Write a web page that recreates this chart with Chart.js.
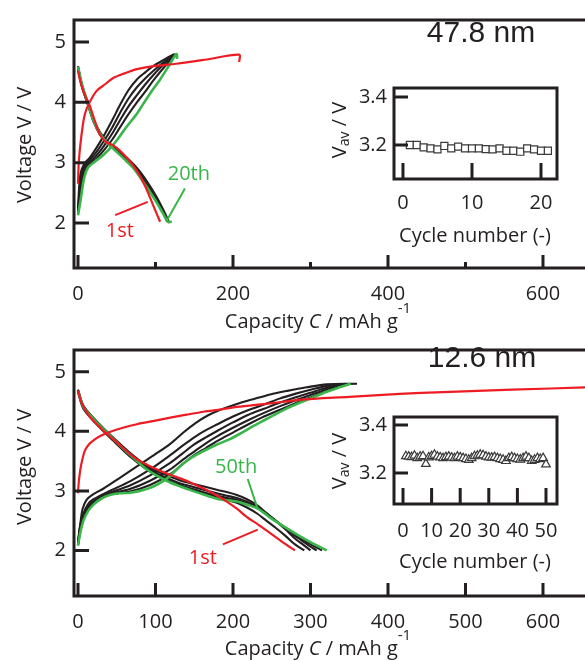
<!DOCTYPE html>
<html>
<head>
<meta charset="utf-8">
<script src="https://cdn.jsdelivr.net/npm/chart.js@4.4.1/dist/chart.umd.min.js"></script>
<style>
html, body { margin: 0; padding: 0; background: #fff; }
#wrap { position: relative; width: 585px; height: 661px; overflow: hidden; }
canvas { position: absolute; }
</style>
</head>
<body>
<div id="wrap">
  <canvas id="mainTop" width="585" height="338" style="left:0;top:0"></canvas>
  <canvas id="mainBottom" width="585" height="331" style="left:0;top:330px"></canvas>
  <canvas id="insetTop" width="285" height="230" style="left:300px;top:50px"></canvas>
  <canvas id="insetBottom" width="285" height="200" style="left:300px;top:380px"></canvas>
</div>
<script>
// ticks
const xTicksTop = [0, 200, 400, 600];
const xMinorTop = [100, 300, 500];
const xTicksBottom = [0, 100, 200, 300, 400, 500, 600];
const yTicksMain = [2, 3, 4, 5];
const cycTicksTop = [0, 10, 20];
const cycTicksBottom = [0, 10, 20, 30, 40, 50];
const vavTicks = [3.2, 3.4];

// 47.8 nm  -- [capacity mAh/g, voltage V]
const t1stCharge = [[0,2.65],[1,3.0],[3,3.29],[6,3.6],[9,3.81],[15,4.0],[24,4.19],[35,4.3],[45,4.4],[60,4.48],[76,4.55],[97,4.6],[127,4.64],[166,4.71],[208,4.79],[208,4.67]];
const t1stDischarge = [[0,4.52],[3,4.35],[7,4.18],[15,3.95],[22,3.68],[28,3.47],[36,3.34],[45,3.29],[54,3.2],[63,3.08],[72,2.94],[80,2.78],[87,2.6],[93,2.42],[100,2.2],[106,2.02]];
const t20thCharge = [[0,2.13],[3,2.35],[8,2.75],[13,2.92],[22,3.02],[33,3.13],[45,3.29],[54,3.44],[63,3.6],[76,3.81],[84,3.97],[97,4.22],[106,4.38],[116,4.58],[127,4.8],[128,4.72]];
const t20thDischarge = [[0,4.59],[5,4.3],[13,3.97],[20,3.7],[28,3.49],[36,3.35],[45,3.24],[54,3.13],[63,3.02],[72,2.9],[80,2.76],[91,2.55],[102,2.33],[110,2.15],[116,2.02],[121,2.02]];
const tMidCharge1 = [[0,2.25],[3,2.8],[8,2.98],[15,3.08],[24,3.25],[33,3.44],[44,3.7],[54,3.95],[65,4.2],[76,4.38],[87,4.5],[97,4.6],[110,4.7],[124,4.8]];
const tMidCharge2 = [[0,2.2],[4,2.78],[9,2.95],[15,3.04],[24,3.18],[33,3.35],[44,3.58],[54,3.82],[65,4.06],[76,4.25],[87,4.4],[97,4.52],[112,4.68],[125,4.8]];
const tMidCharge3 = [[0,2.2],[5,2.75],[10,2.93],[15,3.0],[24,3.12],[33,3.27],[44,3.48],[54,3.7],[65,3.93],[76,4.12],[87,4.3],[97,4.45],[113,4.66],[126,4.8]];
const tMidCharge4 = [[0,2.15],[6,2.72],[11,2.9],[17,2.99],[24,3.07],[33,3.2],[44,3.38],[54,3.58],[65,3.8],[76,4.0],[87,4.18],[97,4.36],[115,4.64],[127,4.8]];
const tMidDischarge1 = [[0,4.58],[5,4.28],[13,3.96],[20,3.7],[28,3.5],[36,3.36],[45,3.27],[54,3.17],[63,3.08],[72,2.97],[80,2.85],[91,2.65],[102,2.42],[110,2.22],[118,2.0]];
const tMidDischarge2 = [[0,4.6],[5,4.3],[13,3.98],[20,3.72],[28,3.51],[36,3.37],[45,3.26],[54,3.15],[63,3.05],[72,2.94],[80,2.81],[91,2.6],[102,2.38],[110,2.18],[117,2.02]];
const tMidDischarge3 = [[0,4.55],[5,4.26],[13,3.95],[20,3.68],[28,3.47],[36,3.34],[45,3.25],[54,3.14],[63,3.03],[72,2.92],[80,2.79],[91,2.58],[102,2.36],[110,2.17],[115,2.02]];

// 12.6 nm
const b1stCharge = [[0,2.96],[1,3.15],[3,3.36],[6,3.55],[9,3.68],[14,3.78],[20,3.85],[30,3.93],[41,3.99],[58,4.06],[76,4.12],[100,4.18],[119,4.23],[140,4.28],[162,4.33],[185,4.37],[205,4.41],[248,4.47],[286,4.53],[350,4.58],[415,4.63],[471,4.66],[560,4.7],[660,4.74]];
const b1stDischarge = [[0,4.68],[5,4.47],[15,4.25],[26,4.1],[37,3.96],[48,3.84],[58,3.72],[67,3.62],[76,3.53],[89,3.44],[102,3.36],[117,3.28],[132,3.21],[147,3.13],[162,3.04],[177,2.94],[192,2.82],[205,2.7],[218,2.56],[233,2.43],[248,2.29],[264,2.14],[280,2.0]];
const b50thCharge = [[0,2.08],[3,2.3],[7,2.5],[13,2.66],[20,2.77],[30,2.87],[41,2.93],[54,2.96],[67,2.97],[80,3.0],[93,3.05],[104,3.12],[115,3.21],[125,3.33],[135,3.45],[148,3.57],[162,3.67],[178,3.77],[196,3.87],[209,3.96],[222,4.06],[235,4.15],[248,4.24],[267,4.37],[286,4.48],[303,4.57],[320,4.66],[335,4.73],[352,4.8]];
const b50thDischarge = [[0,4.68],[7,4.41],[15,4.28],[24,4.15],[35,4.01],[45,3.88],[56,3.74],[67,3.61],[78,3.48],[89,3.36],[104,3.24],[119,3.14],[133,3.07],[148,3.0],[164,2.93],[179,2.87],[192,2.84],[205,2.82],[218,2.77],[231,2.71],[240,2.63],[248,2.55],[267,2.39],[286,2.24],[304,2.11],[321,2.0]];
const bMidCharge1 = [[0,2.15],[3,2.45],[6,2.7],[11,2.85],[18,2.93],[33,3.04],[54,3.22],[76,3.41],[98,3.6],[119,3.79],[136,3.98],[153,4.15],[168,4.27],[183,4.36],[205,4.46],[226,4.54],[248,4.62],[270,4.68],[295,4.74],[321,4.79],[360,4.8]];
const bMidCharge2 = [[0,2.12],[3,2.42],[7,2.62],[13,2.78],[20,2.86],[41,3.0],[67,3.16],[93,3.36],[119,3.6],[135,3.76],[150,3.9],[165,4.02],[180,4.12],[200,4.25],[220,4.36],[240,4.45],[260,4.55],[280,4.63],[300,4.7],[320,4.76],[340,4.8]];
const bMidCharge3 = [[0,2.1],[3,2.4],[7,2.58],[13,2.74],[20,2.83],[41,2.97],[67,3.09],[93,3.26],[119,3.47],[135,3.63],[150,3.78],[165,3.9],[180,4.01],[200,4.15],[220,4.28],[240,4.38],[260,4.48],[280,4.57],[300,4.65],[320,4.73],[344,4.8]];
const bMidCharge4 = [[0,2.1],[3,2.36],[7,2.55],[13,2.71],[20,2.8],[41,2.95],[67,3.03],[93,3.17],[119,3.36],[135,3.52],[150,3.66],[165,3.8],[180,3.92],[200,4.06],[220,4.19],[240,4.31],[260,4.42],[280,4.52],[300,4.61],[320,4.7],[346,4.8]];
const bMidCharge5 = [[0,2.09],[3,2.33],[7,2.52],[13,2.68],[20,2.78],[41,2.94],[67,2.99],[93,3.1],[119,3.28],[135,3.45],[150,3.6],[165,3.72],[180,3.84],[200,3.98],[220,4.12],[240,4.25],[260,4.36],[280,4.47],[300,4.57],[320,4.67],[348,4.8]];
const bMidDischarge1 = [[0,4.7],[7,4.43],[24,4.17],[45,3.9],[67,3.64],[89,3.42],[104,3.32],[119,3.24],[133,3.17],[148,3.12],[164,3.07],[179,3.02],[192,2.98],[205,2.93],[218,2.86],[231,2.76],[243,2.63],[255,2.5],[268,2.35],[280,2.2],[290,2.1],[300,2.0]];
const bMidDischarge2 = [[0,4.69],[7,4.42],[24,4.16],[45,3.89],[67,3.62],[89,3.39],[104,3.28],[119,3.19],[133,3.12],[148,3.07],[164,3.01],[179,2.96],[192,2.92],[205,2.88],[218,2.82],[231,2.74],[243,2.62],[255,2.5],[270,2.34],[285,2.2],[297,2.09],[308,2.0]];
const bMidDischarge3 = [[0,4.68],[7,4.41],[24,4.15],[45,3.88],[67,3.6],[89,3.36],[104,3.25],[119,3.16],[133,3.09],[148,3.03],[164,2.97],[179,2.92],[192,2.88],[205,2.85],[218,2.79],[231,2.72],[245,2.59],[260,2.45],[275,2.31],[290,2.18],[303,2.08],[315,2.0]];
const bMidDischarge4 = [[0,4.66],[7,4.38],[24,4.12],[45,3.85],[67,3.58],[89,3.36],[104,3.24],[119,3.15],[133,3.08],[148,3.02],[164,2.96],[179,2.9],[192,2.85],[205,2.8],[218,2.72],[231,2.62],[243,2.5],[255,2.38],[268,2.24],[280,2.1],[292,2.0]];

// insets: average voltage per cycle
const cyclesTop = [1,2,3,4,5,6,7,8,9,10,11,12,13,14,15,16,17,18,19,20,21];
const vavTop = [3.200,3.200,3.190,3.186,3.182,3.196,3.186,3.193,3.186,3.186,3.186,3.183,3.182,3.186,3.176,3.176,3.172,3.186,3.182,3.176,3.176];
const cyclesBottom = [1,2,3,4,5,6,7,8,9,10,11,12,13,14,15,16,17,18,19,20,21,22,23,24,25,26,27,28,29,30,31,32,33,34,35,36,37,38,39,40,41,42,43,44,45,46,47,48,49,50];
const vavBottom = [3.270,3.268,3.266,3.272,3.262,3.268,3.270,3.238,3.265,3.270,3.276,3.268,3.265,3.262,3.266,3.268,3.264,3.262,3.268,3.265,3.262,3.258,3.255,3.262,3.270,3.272,3.276,3.274,3.268,3.265,3.264,3.266,3.262,3.258,3.255,3.250,3.262,3.266,3.262,3.258,3.256,3.262,3.268,3.262,3.250,3.255,3.262,3.258,3.262,3.236];

const RED = '#ed1c24', GREEN = '#39b54a', INK = '#231f20';
const FONT = "'Open Sans', sans-serif";
const SIZE_FONT = "30px 'Liberation Sans', Arial, sans-serif";

const line = (data, color, width) => ({
  data, borderColor: color, borderWidth: width, showLine: true,
  pointRadius: 0, tension: 0.3, fill: false
});

function drawRich(ctx, parts, x, y, rot, color) {
  ctx.save();
  ctx.translate(x, y);
  if (rot) ctx.rotate(rot);
  ctx.textBaseline = 'alphabetic';
  ctx.textAlign = 'left';
  let w = 0;
  parts.forEach(p => { ctx.font = p.font; w += ctx.measureText(p.t).width; });
  let cx = -w / 2;
  parts.forEach(p => {
    ctx.font = p.font;
    ctx.fillStyle = color || INK;
    ctx.fillText(p.t, cx, p.dy || 0);
    cx += ctx.measureText(p.t).width;
  });
  ctx.restore();
}

// frame, inward ticks, titles and annotations
const framePlugin = {
  id: 'frame',
  afterDraw(chart, args, o) {
    const { ctx, chartArea: a, scales: { x, y } } = chart;
    ctx.save();
    ctx.strokeStyle = INK;
    ctx.lineWidth = 3;
    ctx.lineJoin = 'miter';
    ctx.beginPath();
    if (o.closed) {
      ctx.rect(a.left, a.top, a.right - a.left, a.bottom - a.top);
    } else {
      ctx.moveTo(chart.width, a.top);
      ctx.lineTo(a.left, a.top);
      ctx.lineTo(a.left, a.bottom);
      ctx.lineTo(chart.width, a.bottom);
    }
    ctx.stroke();

    ctx.beginPath();
    (o.xMajor || []).forEach(v => {
      const px = x.getPixelForValue(v);
      ctx.moveTo(px, a.bottom); ctx.lineTo(px, a.bottom - o.xLen);
    });
    (o.xMinor || []).forEach(v => {
      const px = x.getPixelForValue(v);
      ctx.moveTo(px, a.bottom); ctx.lineTo(px, a.bottom - o.xMinorLen);
    });
    (o.yMajor || []).forEach(v => {
      const py = y.getPixelForValue(v);
      ctx.moveTo(a.left, py); ctx.lineTo(a.left + o.yLen, py);
    });
    ctx.stroke();

    (o.notes || []).forEach(n => {
      ctx.strokeStyle = n.color;
      ctx.lineWidth = 2;
      ctx.beginPath();
      ctx.moveTo(x.getPixelForValue(n.line[0][0]), y.getPixelForValue(n.line[0][1]));
      ctx.lineTo(x.getPixelForValue(n.line[1][0]), y.getPixelForValue(n.line[1][1]));
      ctx.stroke();
      ctx.fillStyle = n.color;
      ctx.font = `20px ${FONT}`;
      ctx.textAlign = 'center';
      ctx.textBaseline = 'middle';
      ctx.fillText(n.text, x.getPixelForValue(n.at[0]), y.getPixelForValue(n.at[1]));
    });

    (o.texts || []).forEach(t => drawRich(ctx, t.parts, t.x, t.y, t.rot, t.color));
    ctx.restore();
  }
};

// the axes keep a fixed box so the plot area lands where the reference has it
function axisX(min, max, ticks, pad, h) {
  return {
    type: 'linear', min, max,
    grid: { display: false, drawTicks: false },
    border: { display: false },
    ticks: { padding: pad, autoSkip: false, maxRotation: 0, color: INK, font: { family: FONT, size: 20 } },
    afterBuildTicks: s => { s.ticks = ticks.map(v => ({ value: v })); },
    afterFit: s => { s.height = h; }
  };
}
function axisY(min, max, ticks, pad, w) {
  return {
    type: 'linear', min, max,
    grid: { display: false, drawTicks: false },
    border: { display: false },
    ticks: { padding: pad, autoSkip: false, color: INK, font: { family: FONT, size: 20 } },
    afterBuildTicks: s => { s.ticks = ticks.map(v => ({ value: v })); },
    afterFit: s => { s.width = w; }
  };
}

function build(id, o) {
  const cv = document.getElementById(id);
  const [l, t, r, b] = o.area;
  return new Chart(cv, {
    type: 'scatter',
    data: { datasets: o.sets },
    options: {
      responsive: false, animation: false, events: [],
      layout: { padding: { left: 0, top: t, right: cv.width - r, bottom: 0 } },
      scales: {
        x: axisX(o.x[0], o.x[1], o.x[2], o.x[3], cv.height - b),
        y: axisY(o.y[0], o.y[1], o.y[2], o.y[3], l)
      },
      plugins: { legend: { display: false }, tooltip: { enabled: false }, frame: o.frame }
    },
    plugins: [framePlugin]
  });
}

const capTitle = [
  { t: 'Capacity ', font: `20px ${FONT}` },
  { t: 'C', font: `italic 20px ${FONT}` },
  { t: ' / mAh g', font: `20px ${FONT}` },
  { t: '-1', font: `15px ${FONT}`, dy: -15 }
];
const voltTitle = [{ t: 'Voltage V / V', font: `20px ${FONT}` }];
const vavTitle = [
  { t: 'V', font: `20px ${FONT}` },
  { t: 'av', font: `14px ${FONT}`, dy: 3 },
  { t: ' / V', font: `20px ${FONT}` }
];
const cycTitle = [{ t: 'Cycle number (-)', font: `20px ${FONT}` }];

const blackW = 2.1;

build('mainTop', {
  area: [74, 9, 585, 268],
  sets: [
    line(t1stCharge, RED, 2.2), line(t1stDischarge, RED, 2.2),
    line(t20thCharge, GREEN, 2.6), line(t20thDischarge, GREEN, 2.6),
    line(tMidCharge1, INK, blackW), line(tMidCharge2, INK, blackW),
    line(tMidCharge3, INK, blackW), line(tMidCharge4, INK, blackW),
    line(tMidDischarge1, INK, blackW), line(tMidDischarge2, INK, blackW),
    line(tMidDischarge3, INK, blackW)
  ],
  x: [-5.16, 654.2, xTicksTop, 14.5],
  y: [1.254, 5.365, yTicksMain, 8],
  frame: {
    closed: false, xMajor: xTicksTop, xMinor: xMinorTop, xLen: 13, xMinorLen: 6,
    yMajor: yTicksMain, yLen: 15,
    notes: [
      { text: '1st', color: RED, at: [54, 1.87], line: [[48, 2.13], [90, 2.35]] },
      { text: '20th', color: GREEN, at: [143, 2.81], line: [[115, 2.05], [138, 2.57]] }
    ],
    texts: [
      { parts: voltTitle, x: 31, y: 145, rot: -Math.PI / 2 },
      { parts: capTitle, x: 318, y: 328 },
      { parts: [{ t: '47.8 nm', font: SIZE_FONT }], x: 481, y: 42 }
    ]
  }
});

build('mainBottom', {
  area: [74, 7, 585, 266],
  sets: [
    line(b1stCharge, RED, 2.2), line(b1stDischarge, RED, 2.2),
    line(b50thCharge, GREEN, 2.6), line(b50thDischarge, GREEN, 2.6),
    line(bMidCharge1, INK, blackW), line(bMidCharge2, INK, blackW),
    line(bMidCharge3, INK, blackW), line(bMidCharge4, INK, blackW),
    line(bMidCharge5, INK, blackW),
    line(bMidDischarge1, INK, blackW), line(bMidDischarge2, INK, blackW),
    line(bMidDischarge3, INK, blackW), line(bMidDischarge4, INK, blackW)
  ],
  x: [-5.16, 654.2, xTicksBottom, 14.5],
  y: [1.234, 5.367, yTicksMain, 8],
  frame: {
    closed: false, xMajor: xTicksBottom, xLen: 13,
    yMajor: yTicksMain, yLen: 15,
    notes: [
      { text: '1st', color: RED, at: [161, 1.87], line: [[187, 2.1], [232, 2.35]] },
      { text: '50th', color: GREEN, at: [204, 3.39], line: [[219, 3.2], [232, 2.69]] }
    ],
    texts: [
      { parts: voltTitle, x: 31, y: 137, rot: -Math.PI / 2 },
      { parts: capTitle, x: 318, y: 325 },
      { parts: [{ t: '12.6 nm', font: SIZE_FONT }], x: 482, y: 37 }
    ]
  }
});

const marker = (data, style) => ({
  data, showLine: false, pointStyle: style, pointRadius: 5,
  borderColor: '#3a3a3a', borderWidth: 1.2, backgroundColor: '#fff'
});

build('insetTop', {
  area: [94, 38, 257, 129],
  sets: [marker(cyclesTop.map((c, i) => ({ x: c, y: vavTop[i] })), 'rect')],
  x: [-1.3, 22.32, cycTicksTop, 12],
  y: [3.0583, 3.4375, vavTicks, 7],
  frame: {
    closed: true, xMajor: cycTicksTop, xLen: 16, yMajor: vavTicks, yLen: 14,
    texts: [
      { parts: vavTitle, x: 46, y: 80, rot: -Math.PI / 2 },
      { parts: cycTitle, x: 175, y: 192 }
    ]
  }
});

build('insetBottom', {
  area: [94, 37, 257, 124],
  sets: [marker(cyclesBottom.map((c, i) => ({ x: c, y: vavBottom[i] })), 'triangle')],
  x: [-3.15, 53.85, cycTicksBottom, 15],
  y: [3.0708, 3.4333, vavTicks, 7],
  frame: {
    closed: true, xMajor: cycTicksBottom, xLen: 16, yMajor: vavTicks, yLen: 14,
    texts: [
      { parts: vavTitle, x: 46, y: 81, rot: -Math.PI / 2 },
      { parts: cycTitle, x: 175, y: 188 }
    ]
  }
});
</script>
</body>
</html>
